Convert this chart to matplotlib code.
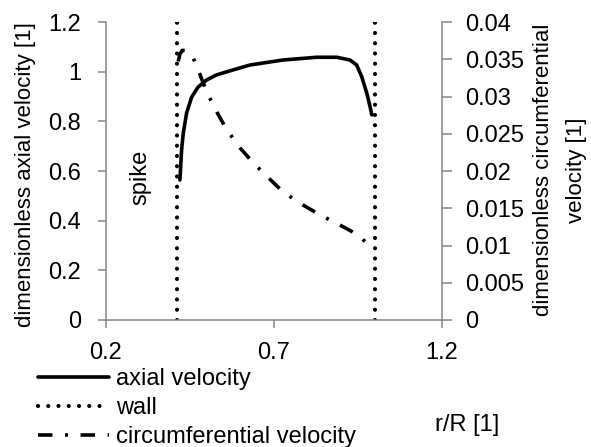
import matplotlib
matplotlib.use('Agg')
import matplotlib.pyplot as plt

plt.rcParams['font.family'] = ['Liberation Sans', 'DejaVu Sans']

# data
r_axial = [0.420, 0.425, 0.430, 0.440, 0.455, 0.474, 0.500, 0.529, 0.578, 0.629, 0.727,
           0.827, 0.887, 0.926, 0.946, 0.961, 0.976, 0.986, 0.991]
axial = [0.564, 0.685, 0.753, 0.834, 0.898, 0.938, 0.967, 0.987, 1.007, 1.027, 1.047,
         1.058, 1.058, 1.047, 1.027, 0.980, 0.914, 0.859, 0.826]

r_circ = [0.415, 0.420, 0.427, 0.440, 0.455, 0.471, 0.486, 0.501, 0.530, 0.560, 0.599,
          0.638, 0.683, 0.727, 0.780, 0.837, 0.890, 0.947, 0.992]
circ = [0.0347, 0.0357, 0.0362, 0.0361, 0.0356, 0.0340, 0.0322, 0.0305, 0.0279, 0.0255, 0.0231,
        0.0211, 0.0191, 0.0172, 0.0156, 0.0141, 0.0129, 0.0115, 0.0097]

wall_r = [0.411, 1.0]
wall_y = [0, 1.2]

grey = '#868686'

fig = plt.figure(figsize=(5.91, 4.47), dpi=100)
ax = fig.add_axes([106/591, 1-320/447, 336/591, 298/447])
ax2 = ax.twinx()

l1, = ax.plot(r_axial, axial, color='black', lw=2.6, solid_capstyle='round',
              solid_joinstyle='round', label='axial velocity')
l2 = None
for w in wall_r:
    l2, = ax.plot([w, w], wall_y, color='black', lw=3.0, linestyle=(0, (0.01, 2.45)),
                  dash_capstyle='round', label='wall')
l3, = ax2.plot(r_circ, circ, color='black', lw=2.6, linestyle=(0, (4.0, 3.5, 0.8, 3.5)),
               dash_capstyle='butt', label='circumferential velocity')

ax.set_xlim(0.2, 1.2)
ax.set_ylim(0, 1.2)
ax2.set_ylim(0, 0.04)
ax.set_xticks([0.2, 0.7, 1.2])
ax.set_xticklabels(['0.2', '0.7', '1.2'])
ax.set_yticks([0, 0.2, 0.4, 0.6, 0.8, 1.0, 1.2])
ax.set_yticklabels(['0', '0.2', '0.4', '0.6', '0.8', '1', '1.2'])
ax2.set_yticks([0, 0.005, 0.01, 0.015, 0.02, 0.025, 0.03, 0.035, 0.04])
ax2.set_yticklabels(['0', '0.005', '0.01', '0.015', '0.02', '0.025', '0.03', '0.035', '0.04'])

for a in (ax, ax2):
    for s in a.spines.values():
        s.set_visible(False)
ax.spines['left'].set_visible(True)
ax.spines['bottom'].set_visible(True)
ax2.spines['right'].set_visible(True)
for s in (ax.spines['left'], ax.spines['bottom'], ax2.spines['right']):
    s.set_color(grey)
    s.set_linewidth(1.1)

fs = 17
ax.tick_params(axis='y', direction='out', length=6, width=1.1, color=grey, labelsize=fs, pad=12)
ax.tick_params(axis='x', direction='out', length=6, width=1.1, color=grey, labelsize=fs, pad=10)
ax2.tick_params(axis='y', direction='out', length=7, width=1.1, color=grey, labelsize=fs, pad=10)

ax.text(0.301, 0.576, 'spike', rotation=90, ha='center', va='center', fontsize=fs)

fig.text(26/591, 1-175/447, 'dimensionless axial velocity [1]', rotation=90,
         ha='center', va='center', fontsize=16)
fig.text(560/591, 1-170/447, 'dimensionless circumferential\nvelocity [1]', rotation=90,
         ha='center', va='center', multialignment='center', fontsize=16, linespacing=1.8)
fig.text(467/591, 1-425/447, 'r/R [1]', ha='center', va='center', fontsize=fs)

fig.legend([l1, l2, l3], ['axial velocity', 'wall', 'circumferential velocity'],
           loc='upper left', bbox_to_anchor=(38/591, 1-368/447), frameon=False,
           fontsize=fs, handlelength=3.0, handletextpad=0.3, labelspacing=0.3,
           borderpad=0, borderaxespad=0)

fig.savefig('out.png', dpi=100)
